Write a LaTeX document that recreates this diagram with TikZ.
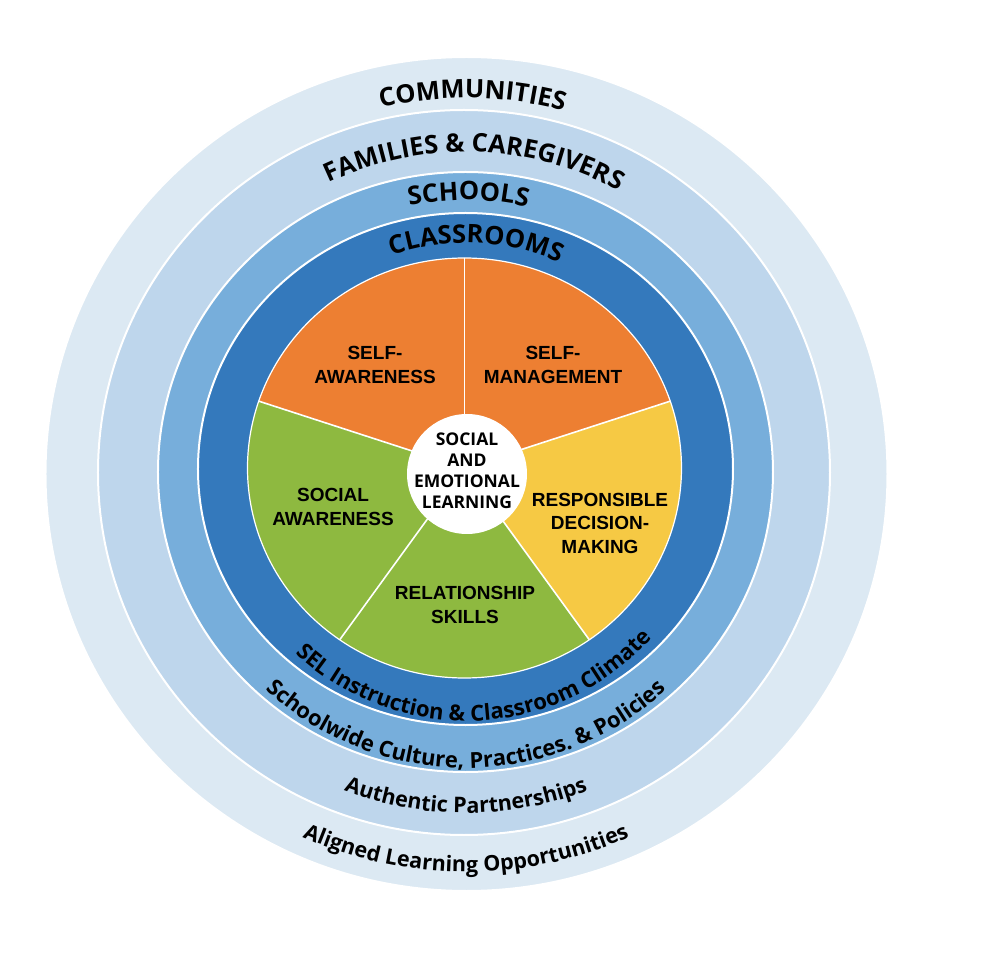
\documentclass[tikz,border=0pt]{standalone}
\usepackage{fontspec}
\newfontfamily\opensans{Open Sans}
\newfontfamily\libsans{Liberation Sans}
\usetikzlibrary{decorations.text}
\definecolor{ringA}{HTML}{DCE9F3}
\definecolor{ringB}{HTML}{BED6EC}
\definecolor{ringC}{HTML}{77AEDB}
\definecolor{ringD}{HTML}{3479BC}
\definecolor{selOrange}{HTML}{ED7F32}
\definecolor{selYellow}{HTML}{F6C944}
\definecolor{selGreen}{HTML}{8EB940}
\newcommand\ringcaps{\opensans\bfseries\fontsize{25.5}{30}\selectfont}
\newcommand\ringlow{\opensans\bfseries\fontsize{22}{26}\selectfont}
\newcommand\ringlowb{\opensans\bfseries\fontsize{21.5}{26}\selectfont}
\tikzset{
  ring/.style={draw=white, line width=2pt},
  pielabel/.style={align=center, inner sep=0pt, font=\libsans\bfseries\fontsize{19}{23.5}\selectfont, text=black},
  centerlabel/.style={align=center, inner sep=0pt, font=\opensans\bfseries\fontsize{17.5}{21}\selectfont, text=black},
  spoke/.style={draw=white, line width=1.6pt},
  arctext/.style={decorate, decoration={text along path, text align=center, text={#1}}}
}
\begin{document}
\begin{tikzpicture}[x=1pt,y=1pt]
\useasboundingbox (-466,-486) rectangle (522,472);
\fill[white] (-466,-486) rectangle (522,472);
% rings
\filldraw[ring, fill=ringA] (0.5,-2) ellipse [x radius=421, y radius=417];
\filldraw[ring, fill=ringB] (-2,-0.5) ellipse [x radius=366, y radius=362.5];
\filldraw[ring, fill=ringC] (-0.5,0) ellipse [x radius=307.5, y radius=300];
\filldraw[ring, fill=ringD] (-0.5,3) ellipse [x radius=267.5, y radius=256];
% pie
\begin{scope}[shift={(-1.5,4)}]
  \begin{scope}
    \clip (0,0) ellipse [x radius=217, y radius=210];
    \fill[selOrange] (0,0) -- (90:320) -- (126:400) -- (162:320) -- cycle;
    \fill[selOrange] (0,0) -- (18:320) -- (54:400) -- (90:320) -- cycle;
    \fill[selGreen] (0,0) -- (162:320) -- (198:400) -- (234:320) -- cycle;
    \fill[selGreen] (0,0) -- (234:320) -- (270:400) -- (306:320) -- cycle;
    \fill[selYellow] (0,0) -- (306:320) -- (342:400) -- (18:320) -- cycle;
    \foreach \a in {18,90,162,234,306} \draw[spoke] (0,0) -- (\a:320);
  \end{scope}
  \draw[white, line width=1.2pt] (0,0) ellipse [x radius=217, y radius=210];
\end{scope}
\fill[white] (1,-2) circle (60);
% curved ring texts (top)
\path[arctext={|\ringcaps|COMMUNITIES}] (150:374) arc[start angle=150, end angle=28, radius=374];
\path[arctext={|\ringcaps|FAMILIES {\&} CAREGIVERS}] (150:320) arc[start angle=150, end angle=27, radius=320];
\path[arctext={|\ringcaps|SCHOOLS}] (150:272) arc[start angle=150, end angle=29, radius=272];
\path[arctext={|\ringcaps|CLASSROOMS}] (150:229) arc[start angle=150, end angle=25, radius=229];
% curved ring texts (bottom)
\path[arctext={|\ringlow|SEL Instruction {\&} Classroom Climate}] (200:249) arc[start angle=200, end angle=345, radius=249];
\path[arctext={|\ringlow|Schoolwide Culture, Practices. {\&} Policies}] (195:296) arc[start angle=195, end angle=345, radius=296];
\path[arctext={|\ringlowb|Authentic Partnerships}] (220:341) arc[start angle=220, end angle=320, radius=341];
\path[arctext={|\ringlowb|Aligned Learning Opportunities}] (220:400) arc[start angle=220, end angle=320, radius=400];
% pie labels
\node[pielabel] (selfaw) at (-91,107) {SELF-\\AWARENESS};
\node[pielabel] (selfman) at (87,107) {SELF-\\MANAGEMENT};
\node[pielabel] (socaw) at (-133,-35) {SOCIAL\\AWARENESS};
\node[pielabel] (respdm) at (134,-51) {RESPONSIBLE\\DECISION-\\MAKING};
\node[pielabel] (relsk) at (-1,-133) {RELATIONSHIP\\SKILLS};
\node[centerlabel] (sel) at (1,1) {SOCIAL\\AND\\EMOTIONAL\\LEARNING};
\end{tikzpicture}
\end{document}
